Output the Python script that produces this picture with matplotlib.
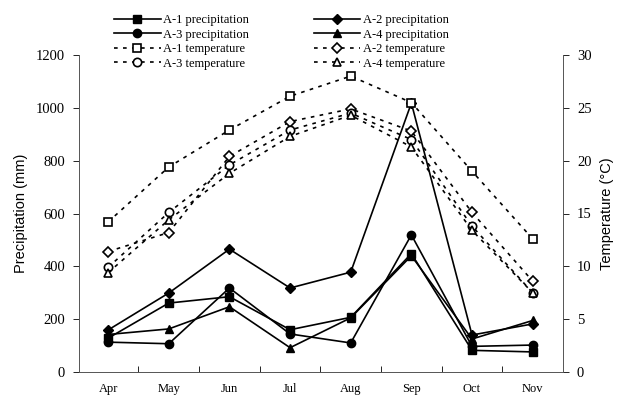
import matplotlib.pyplot as plt

months = ["Apr", "May", "Jun", "Jul", "Aug", "Sep", "Oct", "Nov"]

# precipitation (mm)
p_a1 = [128, 261, 285, 160, 207, 448, 82, 76]
p_a2 = [159, 299, 465, 318, 378, 1018, 140, 182]
p_a3 = [113, 107, 318, 144, 110, 519, 97, 102]
p_a4 = [142, 163, 247, 92, 205, 440, 125, 195]

# temperature (degC)
t_a1 = [14.2, 19.4, 22.9, 26.1, 28.0, 25.5, 19.0, 12.6]
t_a2 = [11.4, 13.2, 20.4, 23.7, 24.9, 22.8, 15.1, 8.6]
t_a3 = [9.9, 15.1, 19.6, 22.9, 24.5, 22.0, 13.8, 7.5]
t_a4 = [9.4, 14.4, 18.8, 22.3, 24.3, 21.3, 13.4, 7.5]

serif = "Liberation Serif"
sans = "Liberation Sans"

fig = plt.figure(figsize=(6.22, 3.96), dpi=100)
ax = fig.add_axes([79/622, 1 - 372/396, (563-79)/622, (372-55)/396])
ax2 = ax.twinx()

x = list(range(len(months)))
dash = (0, (2.2, 3.2))
ms = 6

h = {}
h["a1p"], = ax.plot(x, p_a1, "k-", marker="s", ms=ms, lw=1.2, label="A-1 precipitation")
h["a2p"], = ax.plot(x, p_a2, "k-", marker="D", ms=ms-1, lw=1.2, label="A-2 precipitation")
h["a3p"], = ax.plot(x, p_a3, "k-", marker="o", ms=ms, lw=1.2, label="A-3 precipitation")
h["a4p"], = ax.plot(x, p_a4, "k-", marker="^", ms=ms, lw=1.2, label="A-4 precipitation")

h["a1t"], = ax2.plot(x, t_a1, color="k", ls=dash, marker="s", ms=ms, mfc="white", mew=1.2, lw=1.2, label="A-1 temperature")
h["a2t"], = ax2.plot(x, t_a2, color="k", ls=dash, marker="D", ms=ms-1, mfc="white", mew=1.2, lw=1.2, label="A-2 temperature")
h["a3t"], = ax2.plot(x, t_a3, color="k", ls=dash, marker="o", ms=ms, mfc="white", mew=1.2, lw=1.2, label="A-3 temperature")
h["a4t"], = ax2.plot(x, t_a4, color="k", ls=dash, marker="^", ms=ms, mfc="white", mew=1.2, lw=1.2, label="A-4 temperature")

ax.set_xlim(-0.48, 7.5)
ax.set_ylim(0, 1200)
ax2.set_ylim(0, 30)
ax.set_yticks(range(0, 1201, 200))
ax2.set_yticks(range(0, 31, 5))

ax.set_xticks(x)
ax.set_xticklabels(months, fontfamily=serif, fontsize=9)
ax.tick_params(axis="x", which="major", length=0, pad=8)
ax.set_xticks([i + 0.5 for i in range(7)], minor=True)
ax.tick_params(axis="x", which="minor", direction="in", length=4, width=0.6)
ax.tick_params(axis="y", direction="out", length=4, width=0.6, labelsize=10.5, pad=6)
ax2.tick_params(axis="y", direction="out", length=4, width=0.6, labelsize=10.5, pad=6)
for lab in ax.get_yticklabels() + ax2.get_yticklabels():
    lab.set_fontfamily(serif)

ax.set_ylabel("Precipitation (mm)", fontfamily=sans, fontsize=10.5, labelpad=6)
ax2.set_ylabel("Temperature (°C)", fontfamily=sans, fontsize=10.5, labelpad=6)

for a in (ax, ax2):
    a.spines["top"].set_visible(False)
    for s in a.spines.values():
        s.set_linewidth(0.6)
        s.set_color("#555555")

order = ["a1p", "a3p", "a1t", "a3t", "a2p", "a4p", "a2t", "a4t"]
fig.legend([h[k] for k in order], [h[k].get_label() for k in order],
           ncol=2, loc="upper left", bbox_to_anchor=(108/622, 1 - 8/396),
           frameon=False, prop={"family": serif, "size": 9},
           handlelength=3.7, handletextpad=0.2, columnspacing=5.2,
           labelspacing=0.2, borderpad=0)

fig.savefig("out.png", dpi=100)
